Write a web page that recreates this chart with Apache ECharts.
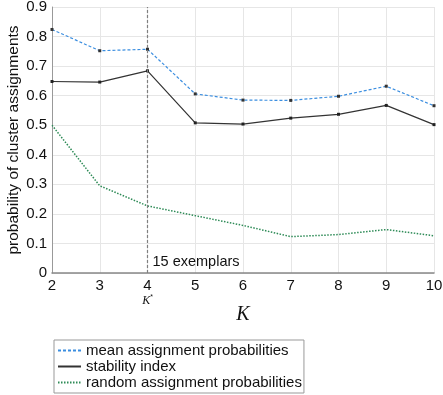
<!DOCTYPE html>
<html>
<head>
<meta charset="utf-8">
<script src="https://cdn.jsdelivr.net/npm/echarts@6/dist/echarts.min.js"></script>
<style>
  html, body { margin: 0; padding: 0; background: #fff; }
  #main { width: 443px; height: 395px; }
</style>
</head>
<body>
<div id="main"></div>
<script>
// 数据
var K = [2, 3, 4, 5, 6, 7, 8, 9, 10];
var meanProb = [0.824, 0.752, 0.757, 0.606, 0.585, 0.584, 0.598, 0.632, 0.566];
var stability = [0.648, 0.646, 0.684, 0.508, 0.504, 0.524, 0.537, 0.567, 0.502];
var randomProb = [0.500, 0.295, 0.227, 0.194, 0.161, 0.123, 0.130, 0.147, 0.126];
var kStar = 4;

function pairs(ys) {
    var out = [];
    for (var i = 0; i < K.length; i++) {
        out.push([K[i], ys[i]]);
    }
    return out;
}

var myChart = echarts.init(document.getElementById('main'));

var font = 'Liberation Sans, Arial, sans-serif';

var option = {
    animation: false,
    grid: { left: 52, right: 9, top: 7, height: 266, containLabel: false, outerBoundsMode: 'none' },
    legend: {
        orient: 'vertical',
        left: 54,
        top: 340,
        padding: [3, 2, 3, 3],
        itemGap: 1,
        itemWidth: 23,
        itemHeight: 14,
        borderColor: '#999',
        borderWidth: 1,
        itemStyle: { opacity: 0 },
        textStyle: { fontFamily: font, fontSize: 15, lineHeight: 15, color: '#111' },
        data: ['mean assignment probabilities', 'stability index', 'random assignment probabilities']
    },
    xAxis: {
        type: 'value',
        min: 2,
        max: 10,
        interval: 1,
        name: 'K',
        nameLocation: 'middle',
        nameGap: 32,
        nameMoveOverlap: false,
        nameTextStyle: { fontFamily: 'Liberation Serif, serif', fontStyle: 'italic', fontSize: 20, color: '#111' },
        axisLine: { lineStyle: { color: '#888', width: 1.5 } },
        axisTick: { show: false },
        splitLine: { show: true, lineStyle: { color: '#e6e6e6' } },
        axisLabel: {
            fontFamily: font,
            fontSize: 15,
            color: '#111',
            margin: 4,
            formatter: function (v) {
                if (v === kStar) return '{n|' + v + '}\n{k|K}{s|*}';
                return '{n|' + v + '}';
            },
            rich: {
                n: { fontFamily: font, fontSize: 15, color: '#111', lineHeight: 17 },
                k: { fontFamily: 'Liberation Serif, serif', fontStyle: 'italic', fontSize: 12, color: '#111', lineHeight: 14 },
                s: { fontFamily: font, fontSize: 7, color: '#111', verticalAlign: 'top', lineHeight: 14 }
            }
        }
    },
    yAxis: {
        type: 'value',
        min: 0,
        max: 0.9,
        interval: 0.1,
        name: 'probability of cluster assignments',
        nameLocation: 'middle',
        nameGap: 30,
        nameMoveOverlap: false,
        nameTextStyle: { fontFamily: font, fontSize: 15.5, color: '#111' },
        axisLine: { show: true, lineStyle: { color: '#999', width: 1 } },
        axisTick: { show: false },
        splitLine: { show: true, lineStyle: { color: '#e6e6e6' } },
        axisLabel: {
            fontFamily: font,
            fontSize: 15,
            color: '#111',
            margin: 5,
            formatter: function (v) { return v === 0 ? '0' : v.toFixed(1); }
        }
    },
    series: [
        {
            name: 'mean assignment probabilities',
            type: 'line',
            data: pairs(meanProb),
            symbol: 'rect',
            symbolSize: 3,
            itemStyle: { color: '#333' },
            lineStyle: { color: '#3b8ee0', width: 1.2, type: [3, 2] },
            markLine: {
                silent: true,
                symbol: 'none',
                label: { show: false },
                lineStyle: { color: '#808080', type: [3, 2], width: 1.2 },
                data: [{ xAxis: kStar }]
            }
        },
        {
            name: 'stability index',
            type: 'line',
            data: pairs(stability),
            symbol: 'rect',
            symbolSize: 3,
            itemStyle: { color: '#222' },
            lineStyle: { color: '#333', width: 1.2, type: 'solid' },
            markPoint: {
                symbol: 'circle',
                symbolSize: 2,
                itemStyle: { color: 'rgba(0,0,0,0)' },
                label: {
                    show: true,
                    position: 'right',
                    distance: 4,
                    offset: [0, -11],
                    formatter: '15 exemplars',
                    fontFamily: font,
                    fontSize: 14.5,
                    color: '#111'
                },
                data: [{ coord: [kStar, 0] }]
            }
        },
        {
            name: 'random assignment probabilities',
            type: 'line',
            data: pairs(randomProb),
            symbol: 'none',
            lineStyle: { color: '#2e8b57', width: 1.5, type: [1.5, 1.5] }
        }
    ]
};

myChart.setOption(option);
</script>
</body>
</html>
